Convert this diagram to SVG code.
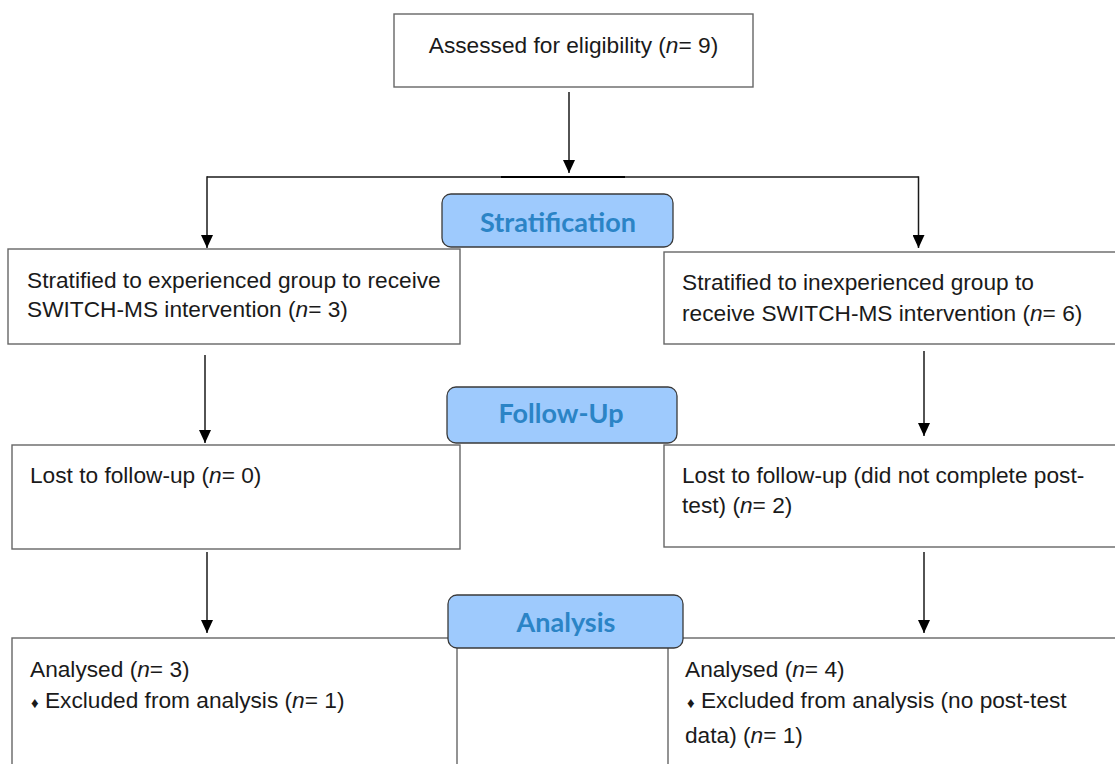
<svg xmlns="http://www.w3.org/2000/svg" width="1115" height="764" viewBox="0 0 1115 764">
<style>
.box{fill:#fff;stroke:#666;stroke-width:1.4}
.t{font-family:"Liberation Sans",Arial,sans-serif;font-size:22.7px;fill:#1a1a1a}
.i{font-style:italic}
.d{font-size:15px}
.lab{fill:#9ecafd;stroke:#3a3a3a;stroke-width:1.3}
.lt{font-family:Lato,"Open Sans",sans-serif;font-weight:bold;font-size:27px;fill:#2b84c6;text-anchor:middle}
.c{stroke:#1a1a1a;stroke-width:1.5;fill:none}
</style>
<defs>
<marker id="ah" markerWidth="13" markerHeight="12" refX="13" refY="6" orient="auto" markerUnits="userSpaceOnUse" viewBox="0 0 13 12">
<path d="M0,0 L13,6 L0,12 Z" fill="#000"/>
</marker>
</defs>
<rect width="1115" height="764" fill="#fff"/>
<g id="connectors">
<line class="c" x1="569" y1="92" x2="569" y2="173" marker-end="url(#ah)"/>
<line class="c" x1="207" y1="177" x2="918.5" y2="177"/>
<line x1="501" y1="177" x2="625" y2="177" stroke="#000" stroke-width="2.2"/>
<polyline class="c" points="207,176.3 207,248" marker-end="url(#ah)"/>
<polyline class="c" points="918.5,176.3 918.5,248" marker-end="url(#ah)"/>
<line class="c" x1="205" y1="355" x2="205" y2="443" marker-end="url(#ah)"/>
<line class="c" x1="924" y1="351" x2="924" y2="436" marker-end="url(#ah)"/>
<line class="c" x1="207" y1="552" x2="207" y2="633" marker-end="url(#ah)"/>
<line class="c" x1="924" y1="552" x2="924" y2="633" marker-end="url(#ah)"/>
</g>
<g id="assessed">
<rect class="box" x="394" y="14" width="359" height="73"/>
<text class="t" x="573.5" y="53" text-anchor="middle">Assessed for eligibility (<tspan class="i">n</tspan>= 9)</text>
</g>
<g id="strat-exp">
<rect class="box" x="8" y="249" width="452" height="95"/>
<text class="t" x="27" y="288">Stratified to experienced group to receive</text>
<text class="t" x="27" y="317">SWITCH-MS intervention (<tspan class="i">n</tspan>= 3)</text>
</g>
<g id="strat-inexp">
<rect class="box" x="664" y="252" width="460" height="92"/>
<text class="t" x="682" y="290">Stratified to inexperienced group to</text>
<text class="t" x="682" y="320.5">receive SWITCH-MS intervention (<tspan class="i">n</tspan>= 6)</text>
</g>
<g id="fu-left">
<rect class="box" x="12" y="445" width="448" height="104"/>
<text class="t" x="30" y="483">Lost to follow-up (<tspan class="i">n</tspan>= 0)</text>
</g>
<g id="fu-right">
<rect class="box" x="664" y="445" width="460" height="102"/>
<text class="t" x="682" y="483">Lost to follow-up (did not complete post-</text>
<text class="t" x="682" y="513">test) (<tspan class="i">n</tspan>= 2)</text>
</g>
<g id="an-left">
<rect class="box" x="12" y="638" width="445" height="140"/>
<text class="t" x="30" y="677">Analysed (<tspan class="i">n</tspan>= 3)</text>
<text class="t" x="31" y="708"><tspan class="d">♦</tspan> Excluded from analysis (<tspan class="i">n</tspan>= 1)</text>
</g>
<g id="an-right">
<rect class="box" x="668" y="638" width="460" height="140"/>
<text class="t" x="685" y="677">Analysed (<tspan class="i">n</tspan>= 4)</text>
<text class="t" x="687" y="708"><tspan class="d">♦</tspan> Excluded from analysis (no post-test</text>
<text class="t" x="685" y="743">data) (<tspan class="i">n</tspan>= 1)</text>
</g>
<g id="label-stratification">
<rect class="lab" x="442" y="194" width="231" height="53" rx="9"/>
<text class="lt" x="558" y="232">Stratification</text>
</g>
<g id="label-followup">
<rect class="lab" x="447" y="387" width="230" height="56" rx="9"/>
<text class="lt" x="561" y="423">Follow-Up</text>
</g>
<g id="label-analysis">
<rect class="lab" x="448" y="595" width="235" height="53" rx="9"/>
<text class="lt" x="566" y="632">Analysis</text>
</g>
</svg>
